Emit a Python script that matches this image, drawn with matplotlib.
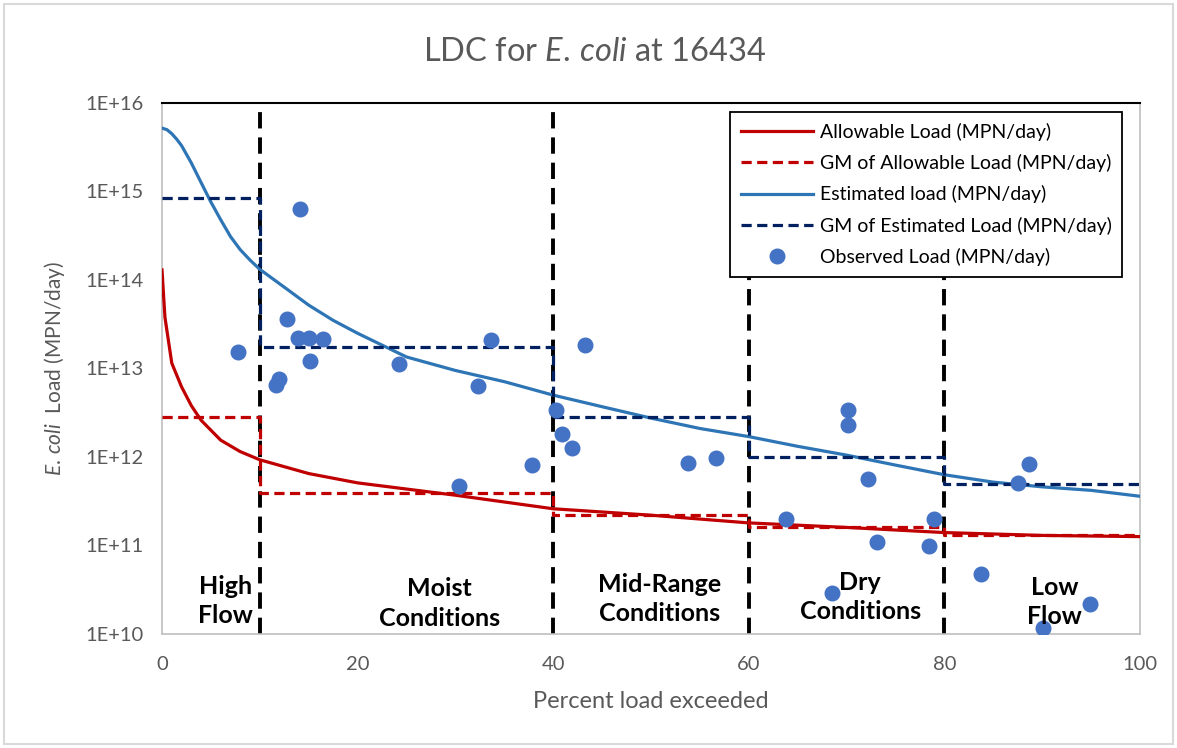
import numpy as np
import matplotlib
matplotlib.use('Agg')
import matplotlib.pyplot as plt
from matplotlib.patches import Rectangle
import matplotlib.transforms as mtransforms

plt.rcParams['font.family'] = ['Lato', 'DejaVu Sans']
plt.rcParams['mathtext.fontset'] = 'custom'
plt.rcParams['mathtext.rm'] = 'Lato'
plt.rcParams['mathtext.it'] = 'Lato:italic'

# estimated load curve (percent exceeded, MPN/day)
est_x = [0, 0.5, 1, 1.5, 2, 3, 4, 5, 6, 7, 8, 9, 10, 12.5, 15, 17.5, 20, 25, 30, 35, 40,
         45, 50, 55, 60, 65, 70, 75, 80, 85, 90, 95, 100]
est_load = [5.2e15, 5.0e15, 4.5e15, 3.9e15, 3.3e15, 2.1e15, 1.26e15, 7.6e14, 4.8e14, 3.1e14,
            2.2e14, 1.68e14, 1.32e14, 8.3e13, 5.2e13, 3.5e13, 2.5e13, 1.35e13, 9.5e12, 7.1e12,
            5.0e12, 3.7e12, 2.75e12, 2.1e12, 1.7e12, 1.32e12, 1.05e12, 8.1e11, 6.3e11,
            5.2e11, 4.6e11, 4.2e11, 3.6e11]

# allowable load curve
allow_x = [0, 0.3, 1, 2, 3, 4, 6, 8, 10, 15, 20, 30, 40, 50, 60, 70, 80, 90, 100]
allow_load = [1.3e14, 3.8e13, 1.15e13, 6.2e12, 3.8e12, 2.6e12, 1.55e12, 1.15e12, 9.3e11,
              6.5e11, 5.1e11, 3.7e11, 2.6e11, 2.2e11, 1.8e11, 1.6e11, 1.4e11, 1.3e11, 1.26e11]

# flow zones and geometric means
zone_edges = [0, 10, 40, 60, 80, 100]
gm_allow = [2.8e12, 3.9e11, 2.2e11, 1.6e11, 1.32e11]
gm_est = [8.5e14, 1.75e13, 2.8e12, 1.0e12, 4.9e11]

# observed loads
obs_x = [7.8, 14.1, 12.8, 13.9, 15.0, 16.5, 15.1, 12.0, 11.7, 24.2, 32.3, 33.6, 30.4,
         37.8, 40.3, 40.9, 41.9, 43.3, 53.8, 56.6, 63.8, 70.1, 70.1, 72.2, 73.1, 68.5,
         78.9, 78.4, 83.7, 87.5, 88.6, 94.9, 90.1]
obs_load = [1.55e13, 6.3e14, 3.6e13, 2.2e13, 2.2e13, 2.15e13, 1.2e13, 7.6e12, 6.5e12,
            1.12e13, 6.3e12, 2.1e13, 4.7e11, 8.1e11, 3.4e12, 1.8e12, 1.27e12, 1.85e13,
            8.5e11, 9.8e11, 2.0e11, 3.4e12, 2.3e12, 5.6e11, 1.1e11, 2.9e10, 2.0e11,
            1.0e11, 4.8e10, 5.1e11, 8.3e11, 2.2e10, 1.17e10]

zone_names = ['High\nFlow', 'Moist\nConditions', 'Mid-Range\nConditions', 'Dry\nConditions', 'Low\nFlow']
zone_label_x = [6.5, 28.4, 50.9, 71.4, 91.3]
zone_label_y = [0.062, 0.058, 0.066, 0.070, 0.060]

def steps(edges, vals):
    xs, ys = [], []
    for i, v in enumerate(vals):
        xs += [edges[i], edges[i + 1]]
        ys += [v, v]
    return xs, ys

fig = plt.figure(figsize=(11.77, 7.48), dpi=100)
ax = fig.add_axes([162/1177, 1 - 634/748, 978/1177, 531/748])

gray = '#595959'

for e in zone_edges[1:-1]:
    ax.axvline(e, color='black', lw=2.8, ls=(0, (4.2, 2.3)), zorder=1)

ax.plot(allow_x, allow_load, color='#C00000', lw=2.3, label='Allowable Load (MPN/day)', zorder=3)
sx, sy = steps(zone_edges, gm_allow)
ax.plot(sx, sy, color='#C00000', lw=2.3, ls=(0, (3.2, 1.7)), label='GM of Allowable Load (MPN/day)', zorder=3)
ax.plot(est_x, est_load, color='#2E75B6', lw=2.3, label='Estimated load (MPN/day)', zorder=3)
sx, sy = steps(zone_edges, gm_est)
ax.plot(sx, sy, color='#002060', lw=2.3, ls=(0, (3.2, 1.7)), label='GM of Estimated Load (MPN/day)', zorder=3)
ax.plot(obs_x, obs_load, ls='none', marker='o', ms=10.5, color='#4472C4',
        label='Observed Load (MPN/day)', zorder=4)

ax.set_yscale('log')
ax.set_ylim(1e10, 1e16)
ax.set_xlim(0, 100)
ax.set_xticks([0, 20, 40, 60, 80, 100])
ax.set_yticks([10.0**k for k in range(10, 17)])
ax.set_yticklabels(['1E+%d' % k for k in range(10, 17)])
ax.minorticks_off()
ax.tick_params(length=0, labelsize=14.5, colors=gray)
ax.tick_params(axis='x', pad=16)
ax.tick_params(axis='y', pad=13)

for s in ['left', 'bottom', 'right']:
    ax.spines[s].set_color('#bfbfbf')
    ax.spines[s].set_linewidth(1.2)
ax.spines['top'].set_color('black')
ax.spines['top'].set_linewidth(1.5)

ax.set_xlabel('Percent load exceeded', fontsize=17, color=gray)
ax.xaxis.set_label_coords(0.5, -0.108)
ax.set_ylabel(r'$\mathit{E.\,coli}$  Load (MPN/day)', fontsize=15, color=gray)
ax.yaxis.set_label_coords(-0.097, 0.5)
fig.text(595/1177, 1 - 52/748, r'LDC for $\mathit{E.\,coli}$ at 16434', fontsize=23.5,
         color=gray, ha='center', va='center')

trans = mtransforms.blended_transform_factory(ax.transData, ax.transAxes)
for name, x, y in zip(zone_names, zone_label_x, zone_label_y):
    ax.text(x, y, name, transform=trans, ha='center', va='center', fontsize=18,
            fontweight='bold', color='black', linespacing=1.35, zorder=5)

leg = ax.legend(loc='upper right', bbox_to_anchor=(0.982, 0.983), borderaxespad=0,
                fancybox=False, framealpha=1, edgecolor='black', fontsize=14,
                handlelength=3.7, handletextpad=0.35, labelspacing=0.68, borderpad=0.55)
leg.get_frame().set_linewidth(1.3)
for t in leg.get_texts():
    t.set_color('black')

fig.patches.append(Rectangle((4/1177, 4/748), 1 - 8/1177, 1 - 8/748, transform=fig.transFigure,
                             fill=False, edgecolor='#d9d9d9', lw=1.5))

fig.savefig('out.png', dpi=100)
